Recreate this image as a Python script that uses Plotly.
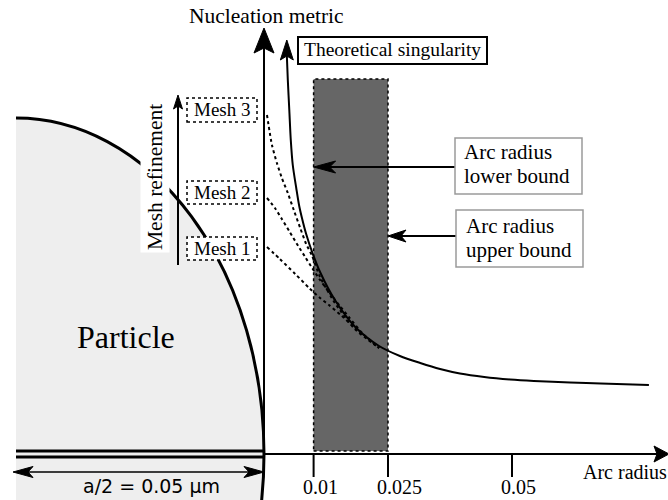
import plotly.graph_objects as go

W, H = 668, 500
X0_PX, X_SCALE = 264, 4960   # pixel of arc radius 0, pixels per unit
Y0_PX, Y_SCALE = 454, 100    # pixel of metric 0, pixels per unit

# ---------------- data ----------------
tick_vals = [0.01, 0.025, 0.05]
tick_labels = ["0.01", "0.025", "0.05"]
radius_lower = 0.01
radius_upper = 0.025
particle_radius = 0.05

sing_x = [0.0046, 0.0048, 0.0051, 0.0054, 0.0058, 0.0065, 0.0071, 0.0077, 0.0085, 0.0097,
          0.0113, 0.0143, 0.0184, 0.0232, 0.0274, 0.0315, 0.0355, 0.0395, 0.0444, 0.0496,
          0.0544, 0.0617, 0.0679, 0.0776]
sing_y = [3.99, 3.74, 3.44, 3.14, 2.89, 2.66, 2.48, 2.35, 2.20, 2.02,
          1.82, 1.54, 1.27, 1.08, 0.98, 0.91, 0.85, 0.805, 0.77, 0.745,
          0.73, 0.715, 0.705, 0.69]

mesh3_x = [0.0006, 0.0016, 0.0026, 0.0036, 0.0048, 0.0060, 0.0073, 0.0085, 0.0097, 0.0113, 0.0143, 0.0183, 0.0232]
mesh3_y = [3.39, 3.09, 2.91, 2.76, 2.61, 2.44, 2.26, 2.10, 1.98, 1.77, 1.51, 1.25, 1.06]

mesh2_x = [0.0006, 0.0022, 0.0036, 0.0052, 0.0069, 0.0083, 0.0097, 0.0113, 0.0131, 0.0153, 0.0171, 0.0198, 0.0232]
mesh2_y = [2.56, 2.46, 2.35, 2.22, 2.08, 1.97, 1.86, 1.74, 1.62, 1.48, 1.37, 1.21, 1.06]

mesh1_x = [0.0006, 0.0032, 0.0063, 0.0091, 0.0113, 0.0131, 0.0157, 0.0183, 0.0210, 0.0232]
mesh1_y = [2.07, 1.95, 1.80, 1.66, 1.56, 1.49, 1.38, 1.26, 1.15, 1.06]

mesh_labels = ["Mesh 3", "Mesh 2", "Mesh 1"]

SERIF = "Liberation Serif"
SANS = "DejaVu Sans"


def dx(px):
    return (px - X0_PX) / X_SCALE


def dy(py):
    return (Y0_PX - py) / Y_SCALE


def xp(px):
    return px / W


def yp(py):
    return 1 - py / H


fig = go.Figure()

# curves
fig.add_trace(go.Scatter(x=sing_x, y=sing_y, mode="lines",
                         line=dict(color="black", width=2, shape="spline", smoothing=0.8),
                         hoverinfo="skip", showlegend=False))
for mx, my in [(mesh3_x, mesh3_y), (mesh2_x, mesh2_y), (mesh1_x, mesh1_y)]:
    fig.add_trace(go.Scatter(x=mx, y=my, mode="lines",
                             line=dict(color="black", width=2, dash="dot", shape="spline", smoothing=0.6),
                             hoverinfo="skip", showlegend=False))

shapes = []

# particle
shapes.append(dict(type="circle", xref="x", yref="y", layer="below",
                   x0=-2 * particle_radius, x1=0, y0=-dy(118), y1=dy(118),
                   fillcolor="#eeeeee", line=dict(color="black", width=3)))
shapes.append(dict(type="rect", xref="x", yref="y", layer="below",
                   x0=dx(-20), x1=-particle_radius, y0=dy(520), y1=dy(-20),
                   fillcolor="white", line=dict(width=0)))
# arc radius band
shapes.append(dict(type="rect", xref="x", yref="y", layer="below",
                   x0=radius_lower, x1=radius_upper, y0=dy(451), y1=dy(79),
                   fillcolor="#666666", line=dict(color="black", width=1.5, dash="dot")))

# particle base double line
for yy in (dy(451), dy(457)):
    shapes.append(dict(type="line", xref="x", yref="y", x0=-particle_radius, x1=0, y0=yy, y1=yy,
                       line=dict(color="black", width=3)))

# axes
shapes.append(dict(type="line", xref="x", yref="y", x0=0, x1=dx(660), y0=0, y1=0,
                   line=dict(color="black", width=2)))
shapes.append(dict(type="line", xref="x", yref="y", x0=0, x1=0, y0=0, y1=dy(45),
                   line=dict(color="black", width=2)))
for tv in tick_vals:
    shapes.append(dict(type="line", xref="x", yref="y", x0=tv, x1=tv, y0=0, y1=dy(477),
                       line=dict(color="black", width=2)))


def head(x, y, direction, L, Wd, notch):
    h = Wd / 2
    if direction == "up":
        path = f"M0,0 L{-h},{-L} L0,{-L + notch} L{h},{-L} Z"
    elif direction == "down":
        path = f"M0,0 L{-h},{L} L0,{L - notch} L{h},{L} Z"
    elif direction == "left":
        path = f"M0,0 L{L},{h} L{L - notch},0 L{L},{-h} Z"
    else:
        path = f"M0,0 L{-L},{h} L{-L + notch},0 L{-L},{-h} Z"
    return dict(type="path", xref="x", yref="y", xsizemode="pixel", ysizemode="pixel",
                xanchor=x, yanchor=y, path=path, fillcolor="black",
                line=dict(color="black", width=1))


def hline(x0, x1, y, width=2):
    return dict(type="line", xref="x", yref="y", x0=x0, x1=x1, y0=y, y1=y,
                line=dict(color="black", width=width))


shapes.append(head(0, dy(28), "up", 25, 20, 5))
shapes.append(head(dx(669), 0, "right", 15, 16, 3))
shapes.append(head(sing_x[0], dy(40), "up", 20, 13, 4))

# mesh refinement arrow
shapes.append(dict(type="line", xref="x", yref="y", x0=dx(178), x1=dx(178), y0=dy(265), y1=dy(102),
                   line=dict(color="black", width=2)))
shapes.append(head(dx(178), dy(95), "up", 14, 9, 3))

# a/2 double arrow
shapes.append(hline(dx(20), dx(257), dy(472), 1.5))
shapes.append(head(dx(13), dy(472), "left", 20, 11, 5))
shapes.append(head(dx(264), dy(472), "right", 20, 11, 5))

# bound arrows
shapes.append(hline(radius_lower + 0.002, dx(455), dy(167)))
shapes.append(head(radius_lower, dy(167), "left", 22, 12, 6))
shapes.append(hline(radius_upper + 0.002, dx(456), dy(236)))
shapes.append(head(radius_upper, dy(236), "left", 18, 12, 5))

# boxes (paper coords)
def box(x0, x1, y0, y1, color, width, dash="solid"):
    return dict(type="rect", xref="paper", yref="paper", x0=xp(x0), x1=xp(x1), y0=yp(y1), y1=yp(y0),
                fillcolor="white", line=dict(color=color, width=width, dash=dash))


shapes.append(box(298, 487, 37, 64, "black", 2))
shapes.append(box(455, 582, 138, 194, "#9a9a9a", 1.5))
shapes.append(box(456, 583, 210, 267, "#9a9a9a", 1.5))
mesh_boxes = [(98, 122), (181, 204), (237, 260)]
for (b0, b1) in mesh_boxes:
    shapes.append(box(187, 257, b0, b1, "black", 1.5, "dot"))

annotations = []


def text(t, px, py, size, family=SERIF, xanchor="center", **kw):
    annotations.append(dict(text=t, xref="paper", yref="paper", x=xp(px), y=yp(py),
                            xanchor=xanchor, yanchor="middle", showarrow=False,
                            font=dict(family=family, size=size, color="black"), **kw))


text("Nucleation metric", 266, 16, 21.5)
text("Theoretical singularity", 392, 50, 19.5)
text("Arc radius", 462, 152, 21, xanchor="left")
text("lower bound", 462, 176, 21, xanchor="left")
text("Arc radius", 464, 226, 21, xanchor="left")
text("upper bound", 464, 250, 21, xanchor="left")
for lab, (b0, b1) in zip(mesh_labels, mesh_boxes):
    text(lab, 222, (b0 + b1) / 2, 19)
text("Mesh refinement", 155, 177, 21.5, textangle=-90, bgcolor="white", borderpad=2)
text("Particle", 126, 337, 32)
text("a/2 = 0.05 µm", 151, 486, 19, family=SANS)
text("Arc radius", 581, 472, 20, xanchor="left")

for tv, tl in zip(tick_vals, tick_labels):
    annotations.append(dict(text=tl, xref="x", yref="paper", x=tv, y=yp(499),
                            xanchor="left", yanchor="bottom", xshift=-12, showarrow=False,
                            borderpad=0, font=dict(family=SERIF, size=20, color="black")))

fig.update_layout(
    width=W, height=H,
    margin=dict(l=0, r=0, t=0, b=0),
    paper_bgcolor="white", plot_bgcolor="white",
    xaxis=dict(range=[dx(0), dx(W)], visible=False, fixedrange=True),
    yaxis=dict(range=[dy(H), dy(0)], visible=False, fixedrange=True),
    shapes=shapes, annotations=annotations, showlegend=False,
)

fig.write_html("out.html", config={"displayModeBar": False},
               post_script="document.body.style.margin='0';document.body.style.overflow='hidden';")
